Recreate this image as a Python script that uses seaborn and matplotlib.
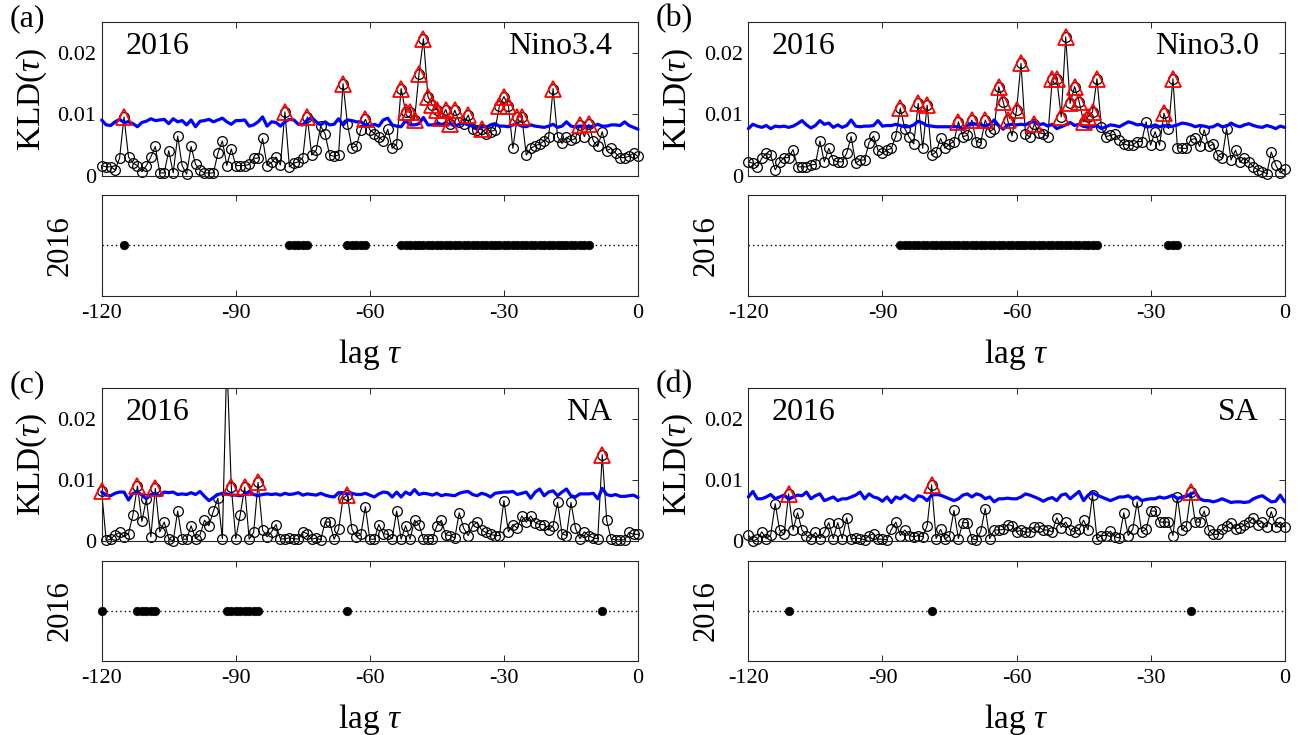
import numpy as np
import pandas as pd
import matplotlib
matplotlib.use("Agg")
import matplotlib.pyplot as plt
import seaborn as sns
from matplotlib.patches import Rectangle

# ---------------- data ----------------
lags = list(range(-120, 1))
year = 2016

kld_a = [0.0017, 0.0015, 0.0015, 0.0010, 0.0029, 0.0096, 0.0031, 0.0021, 0.0017, 0.0007,
         0.0017, 0.0031, 0.0048, 0.0005, 0.0005, 0.0041, 0.0005, 0.0065, 0.0017, 0.0003,
         0.0048, 0.0019, 0.0010, 0.0005, 0.0005, 0.0005, 0.0037, 0.0057, 0.0017, 0.0044,
         0.0017, 0.0017, 0.0017, 0.0019, 0.0029, 0.0029, 0.0061, 0.0017, 0.0022, 0.0031,
         0.0018, 0.0104, 0.0015, 0.0021, 0.0023, 0.0030, 0.0096, 0.0034, 0.0042, 0.0081,
         0.0068, 0.0034, 0.0032, 0.0034, 0.0150, 0.0084, 0.0046, 0.0049, 0.0075, 0.0092,
         0.0075, 0.0069, 0.0063, 0.0057, 0.0076, 0.0045, 0.0052, 0.0142, 0.0104, 0.0104,
         0.0091, 0.0166, 0.0223, 0.0129, 0.0115, 0.0108, 0.0094, 0.0108, 0.0085, 0.0107,
         0.0088, 0.0084, 0.0099, 0.0077, 0.0075, 0.0076, 0.0069, 0.0072, 0.0075, 0.0114,
         0.0129, 0.0114, 0.0045, 0.0096, 0.0096, 0.0034, 0.0045, 0.0049, 0.0052, 0.0057,
         0.0063, 0.0142, 0.0064, 0.0053, 0.0063, 0.0058, 0.0061, 0.0083, 0.0064, 0.0084,
         0.0057, 0.0048, 0.0072, 0.0041, 0.0045, 0.0037, 0.0030, 0.0030, 0.0032, 0.0037,
         0.0032]
thr_a = [0.0091, 0.0083, 0.0082, 0.0088, 0.0092, 0.0087, 0.0088, 0.0085, 0.0080, 0.0087,
         0.0089, 0.0093, 0.0090, 0.0091, 0.0092, 0.0085, 0.0093, 0.0088, 0.0090, 0.0083,
         0.0091, 0.0080, 0.0089, 0.0090, 0.0092, 0.0088, 0.0091, 0.0094, 0.0088, 0.0084,
         0.0090, 0.0090, 0.0091, 0.0081, 0.0083, 0.0088, 0.0096, 0.0081, 0.0088, 0.0087,
         0.0081, 0.0088, 0.0092, 0.0091, 0.0084, 0.0083, 0.0091, 0.0095, 0.0088, 0.0083,
         0.0088, 0.0083, 0.0084, 0.0093, 0.0083, 0.0091, 0.0090, 0.0088, 0.0088, 0.0083,
         0.0081, 0.0084, 0.0081, 0.0091, 0.0094, 0.0083, 0.0081, 0.0080, 0.0090, 0.0083,
         0.0083, 0.0085, 0.0095, 0.0083, 0.0083, 0.0085, 0.0083, 0.0084, 0.0085, 0.0081,
         0.0084, 0.0086, 0.0083, 0.0081, 0.0076, 0.0081, 0.0079, 0.0083, 0.0085, 0.0081,
         0.0081, 0.0080, 0.0083, 0.0084, 0.0081, 0.0080, 0.0083, 0.0081, 0.0080, 0.0079,
         0.0081, 0.0084, 0.0079, 0.0081, 0.0088, 0.0081, 0.0080, 0.0081, 0.0081, 0.0080,
         0.0081, 0.0084, 0.0081, 0.0081, 0.0083, 0.0083, 0.0082, 0.0088, 0.0082, 0.0079,
         0.0076]
tri_a = [-115, -79, -74, -66, -61, -53, -52, -51, -50, -49, -48, -47, -46, -45, -44, -43,
         -42, -41, -38, -35, -31, -30, -29, -27, -26, -19, -13, -11]
strip_a = [-115, -78, -77, -76, -75, -74, -65, -64, -63, -62, -61] + list(range(-53, -10))

kld_b = [0.0023, 0.0021, 0.0015, 0.0029, 0.0037, 0.0034, 0.0010, 0.0022, 0.0030, 0.0030,
         0.0043, 0.0015, 0.0015, 0.0015, 0.0018, 0.0019, 0.0057, 0.0023, 0.0045, 0.0026,
         0.0023, 0.0023, 0.0037, 0.0064, 0.0021, 0.0026, 0.0026, 0.0054, 0.0065, 0.0042,
         0.0037, 0.0042, 0.0045, 0.0065, 0.0110, 0.0077, 0.0063, 0.0052, 0.0118, 0.0045,
         0.0115, 0.0034, 0.0039, 0.0061, 0.0045, 0.0052, 0.0056, 0.0088, 0.0064, 0.0066,
         0.0091, 0.0056, 0.0054, 0.0091, 0.0072, 0.0077, 0.0145, 0.0121, 0.0091, 0.0065,
         0.0107, 0.0183, 0.0069, 0.0063, 0.0085, 0.0070, 0.0069, 0.0064, 0.0158, 0.0158,
         0.0096, 0.0226, 0.0118, 0.0145, 0.0121, 0.0088, 0.0096, 0.0104, 0.0158, 0.0079,
         0.0064, 0.0066, 0.0068, 0.0059, 0.0052, 0.0050, 0.0050, 0.0056, 0.0056, 0.0088,
         0.0050, 0.0072, 0.0050, 0.0102, 0.0077, 0.0158, 0.0046, 0.0045, 0.0045, 0.0059,
         0.0061, 0.0048, 0.0075, 0.0048, 0.0052, 0.0034, 0.0029, 0.0077, 0.0026, 0.0042,
         0.0022, 0.0030, 0.0023, 0.0015, 0.0010, 0.0007, 0.0004, 0.0039, 0.0018, 0.0005,
         0.0011]
thr_b = [0.0077, 0.0084, 0.0081, 0.0079, 0.0082, 0.0077, 0.0081, 0.0080, 0.0081, 0.0079,
         0.0081, 0.0085, 0.0090, 0.0083, 0.0078, 0.0082, 0.0090, 0.0084, 0.0086, 0.0079,
         0.0083, 0.0079, 0.0082, 0.0091, 0.0081, 0.0080, 0.0081, 0.0081, 0.0082, 0.0090,
         0.0081, 0.0082, 0.0082, 0.0084, 0.0082, 0.0080, 0.0080, 0.0083, 0.0089, 0.0086,
         0.0082, 0.0081, 0.0080, 0.0080, 0.0080, 0.0080, 0.0080, 0.0080, 0.0076, 0.0082,
         0.0086, 0.0084, 0.0083, 0.0081, 0.0084, 0.0091, 0.0082, 0.0076, 0.0083, 0.0084,
         0.0083, 0.0084, 0.0083, 0.0087, 0.0088, 0.0083, 0.0085, 0.0081, 0.0084, 0.0077,
         0.0080, 0.0083, 0.0087, 0.0082, 0.0084, 0.0081, 0.0079, 0.0080, 0.0082, 0.0077,
         0.0080, 0.0083, 0.0082, 0.0080, 0.0084, 0.0088, 0.0086, 0.0083, 0.0084, 0.0080,
         0.0080, 0.0083, 0.0080, 0.0082, 0.0080, 0.0081, 0.0083, 0.0086, 0.0085, 0.0083,
         0.0080, 0.0082, 0.0081, 0.0079, 0.0080, 0.0084, 0.0080, 0.0081, 0.0086, 0.0082,
         0.0080, 0.0083, 0.0085, 0.0082, 0.0080, 0.0079, 0.0082, 0.0080, 0.0077, 0.0081,
         0.0079]
tri_b = [-86, -82, -80, -73, -70, -67, -64, -63, -62, -60, -59, -56, -52, -51, -50, -49,
         -48, -47, -46, -45, -44, -43, -42, -27, -25]
strip_b = list(range(-86, -41)) + [-26, -25, -24]

kld_c = [0.0081, 0.0001, 0.0003, 0.0010, 0.0014, 0.0007, 0.0012, 0.0043, 0.0090, 0.0032,
         0.0069, 0.0007, 0.0086, 0.0015, 0.0031, 0.0004, 0.0000, 0.0049, 0.0003, 0.0003,
         0.0025, 0.0004, 0.0010, 0.0034, 0.0025, 0.0049, 0.0070, 0.0004, 0.0300, 0.0088,
         0.0004, 0.0043, 0.0088, 0.0003, 0.0014, 0.0096, 0.0018, 0.0007, 0.0015, 0.0027,
         0.0003, 0.0004, 0.0005, 0.0004, 0.0003, 0.0015, 0.0012, 0.0003, 0.0005, 0.0002,
         0.0031, 0.0031, 0.0003, 0.0019, 0.0070, 0.0075, 0.0019, 0.0007, 0.0011, 0.0056,
         0.0003, 0.0003, 0.0027, 0.0012, 0.0011, 0.0004, 0.0049, 0.0003, 0.0025, 0.0003,
         0.0034, 0.0027, 0.0003, 0.0004, 0.0004, 0.0025, 0.0034, 0.0010, 0.0009, 0.0005,
         0.0046, 0.0021, 0.0009, 0.0025, 0.0031, 0.0018, 0.0014, 0.0011, 0.0009, 0.0009,
         0.0066, 0.0015, 0.0027, 0.0021, 0.0041, 0.0031, 0.0041, 0.0030, 0.0027, 0.0027,
         0.0018, 0.0025, 0.0063, 0.0012, 0.0009, 0.0063, 0.0021, 0.0004, 0.0015, 0.0009,
         0.0005, 0.0004, 0.0141, 0.0034, 0.0003, 0.0002, 0.0002, 0.0002, 0.0014, 0.0011,
         0.0011]
thr_c = [0.0080, 0.0075, 0.0074, 0.0078, 0.0080, 0.0080, 0.0067, 0.0078, 0.0080, 0.0075,
         0.0069, 0.0076, 0.0077, 0.0074, 0.0080, 0.0079, 0.0080, 0.0076, 0.0077, 0.0076,
         0.0079, 0.0076, 0.0081, 0.0073, 0.0066, 0.0071, 0.0076, 0.0078, 0.0077, 0.0075,
         0.0075, 0.0074, 0.0076, 0.0081, 0.0076, 0.0074, 0.0076, 0.0077, 0.0076, 0.0077,
         0.0075, 0.0078, 0.0076, 0.0077, 0.0079, 0.0075, 0.0077, 0.0076, 0.0075, 0.0078,
         0.0075, 0.0073, 0.0072, 0.0079, 0.0079, 0.0077, 0.0078, 0.0076, 0.0076, 0.0078,
         0.0075, 0.0072, 0.0077, 0.0080, 0.0079, 0.0072, 0.0080, 0.0072, 0.0080, 0.0076,
         0.0084, 0.0076, 0.0078, 0.0077, 0.0075, 0.0078, 0.0074, 0.0076, 0.0075, 0.0074,
         0.0078, 0.0080, 0.0081, 0.0076, 0.0074, 0.0078, 0.0076, 0.0072, 0.0078, 0.0079,
         0.0080, 0.0080, 0.0081, 0.0076, 0.0078, 0.0080, 0.0070, 0.0080, 0.0085, 0.0074,
         0.0080, 0.0082, 0.0074, 0.0080, 0.0085, 0.0074, 0.0072, 0.0077, 0.0077, 0.0077,
         0.0078, 0.0069, 0.0086, 0.0076, 0.0074, 0.0076, 0.0073, 0.0073, 0.0074, 0.0075,
         0.0071]
tri_c = [-120, -112, -108, -92, -91, -88, -85, -65, -8]
strip_c = [-120, -112, -111, -110, -109, -108, -92, -91, -90, -89, -88, -87, -86, -85, -65, -8]

kld_d = [0.0010, 0.0000, 0.0003, 0.0015, 0.0004, 0.0010, 0.0061, 0.0018, 0.0011, 0.0077,
         0.0018, 0.0046, 0.0018, 0.0009, 0.0004, 0.0014, 0.0004, 0.0015, 0.0030, 0.0004,
         0.0030, 0.0004, 0.0038, 0.0003, 0.0005, 0.0004, 0.0002, 0.0009, 0.0012, 0.0003,
         0.0003, 0.0002, 0.0019, 0.0031, 0.0009, 0.0018, 0.0009, 0.0007, 0.0009, 0.0007,
         0.0025, 0.0092, 0.0004, 0.0019, 0.0003, 0.0009, 0.0050, 0.0004, 0.0030, 0.0030,
         0.0004, 0.0002, 0.0016, 0.0053, 0.0004, 0.0018, 0.0018, 0.0019, 0.0027, 0.0025,
         0.0015, 0.0018, 0.0014, 0.0015, 0.0023, 0.0023, 0.0018, 0.0018, 0.0015, 0.0038,
         0.0022, 0.0031, 0.0018, 0.0015, 0.0019, 0.0034, 0.0018, 0.0075, 0.0004, 0.0009,
         0.0009, 0.0016, 0.0007, 0.0005, 0.0046, 0.0009, 0.0019, 0.0064, 0.0015, 0.0019,
         0.0049, 0.0049, 0.0031, 0.0031, 0.0031, 0.0009, 0.0072, 0.0018, 0.0025, 0.0080,
         0.0031, 0.0031, 0.0049, 0.0018, 0.0011, 0.0011, 0.0019, 0.0025, 0.0030, 0.0019,
         0.0022, 0.0026, 0.0031, 0.0038, 0.0027, 0.0031, 0.0023, 0.0048, 0.0023, 0.0031,
         0.0023]
thr_d = [0.0072, 0.0081, 0.0069, 0.0069, 0.0072, 0.0076, 0.0069, 0.0072, 0.0075, 0.0069,
         0.0072, 0.0075, 0.0074, 0.0080, 0.0069, 0.0074, 0.0077, 0.0066, 0.0069, 0.0072,
         0.0066, 0.0069, 0.0069, 0.0072, 0.0075, 0.0080, 0.0069, 0.0077, 0.0072, 0.0070,
         0.0065, 0.0072, 0.0063, 0.0072, 0.0069, 0.0075, 0.0070, 0.0066, 0.0074, 0.0072,
         0.0066, 0.0075, 0.0076, 0.0075, 0.0072, 0.0069, 0.0066, 0.0069, 0.0075, 0.0077,
         0.0072, 0.0077, 0.0075, 0.0069, 0.0072, 0.0064, 0.0069, 0.0069, 0.0070, 0.0069,
         0.0069, 0.0072, 0.0077, 0.0075, 0.0072, 0.0069, 0.0065, 0.0069, 0.0071, 0.0066,
         0.0075, 0.0077, 0.0069, 0.0075, 0.0081, 0.0066, 0.0075, 0.0079, 0.0075, 0.0072,
         0.0069, 0.0066, 0.0069, 0.0072, 0.0072, 0.0074, 0.0069, 0.0072, 0.0066, 0.0068,
         0.0069, 0.0069, 0.0072, 0.0070, 0.0072, 0.0075, 0.0069, 0.0072, 0.0073, 0.0077,
         0.0080, 0.0069, 0.0066, 0.0066, 0.0064, 0.0066, 0.0069, 0.0066, 0.0063, 0.0064,
         0.0064, 0.0063, 0.0064, 0.0069, 0.0072, 0.0074, 0.0069, 0.0064, 0.0065, 0.0075,
         0.0064]
tri_d = [-111, -79, -21]
strip_d = [-111, -79, -21]

panels = [
    dict(letter="(a)", name="Nino3.4", kld=kld_a, thr=thr_a, tri=tri_a, strip=strip_a),
    dict(letter="(b)", name="Nino3.0", kld=kld_b, thr=thr_b, tri=tri_b, strip=strip_b),
    dict(letter="(c)", name="NA", kld=kld_c, thr=thr_c, tri=tri_c, strip=strip_c),
    dict(letter="(d)", name="SA", kld=kld_d, thr=thr_d, tri=tri_d, strip=strip_d),
]
xticks = [-120, -90, -60, -30, 0]

# ---------------- style ----------------
sns.set_style("white")
plt.rcParams.update({
    "font.family": ["Liberation Serif", "DejaVu Serif"],
    "mathtext.fontset": "custom",
    "mathtext.rm": "Liberation Serif",
    "mathtext.it": "Liberation Serif:italic",
    "text.color": "black",
    "axes.labelcolor": "black",
    "axes.edgecolor": "#262626",
    "axes.linewidth": 0.8,
    "xtick.color": "#262626",
    "ytick.color": "#262626",
    "xtick.labelcolor": "black",
    "ytick.labelcolor": "black",
})

fig = plt.figure(figsize=(12.97, 7.35), dpi=100)

W = 0.4135
lefts = [0.0784, 0.5770]
main_rows = [(0.7605, 0.2095), (0.2639, 0.2082)]
strip_rows = [(0.5973, 0.1374), (0.1007, 0.1361)]
TICK = 16
LAB = 24
TXT = 23

for k, p in enumerate(panels):
    col, row = k % 2, k // 2
    x0 = lefts[col]
    ax = fig.add_axes([x0, main_rows[row][0], W, main_rows[row][1]])
    axs = fig.add_axes([x0, strip_rows[row][0], W, strip_rows[row][1]])

    df = pd.DataFrame({"lag": lags, "kld": p["kld"], "thr": p["thr"]})
    clip = Rectangle((-0.04, -0.06), 1.08, 1.06, transform=ax.transAxes,
                     facecolor="none", edgecolor="none")

    sns.lineplot(data=df, x="lag", y="kld", ax=ax, color="black", lw=0.8,
                 marker="o", markersize=7, markerfacecolor="none",
                 markeredgecolor="black", markeredgewidth=0.9, zorder=2)
    sns.lineplot(data=df, x="lag", y="thr", ax=ax, color="#0000ff", lw=2.3, zorder=3)
    dtri = df[df["lag"].isin(p["tri"])]
    sns.lineplot(data=dtri, x="lag", y="kld", ax=ax, linestyle="", marker="^",
                 markersize=12, markerfacecolor="none", markeredgecolor="#ff0000",
                 markeredgewidth=1.3, color="#ff0000", zorder=4)
    for ln in ax.lines:
        ln.set_clip_path(clip)

    ax.set_xlim(-120, 0)
    ax.set_ylim(0, 0.025)
    ax.set_xticks(xticks)
    ax.set_xticklabels([])
    ax.set_yticks([0, 0.01, 0.02])
    ax.set_yticklabels(["0", "0.01", "0.02"])
    ax.tick_params(axis="both", direction="in", top=True, right=True, length=4,
                   width=0.7, labelsize=TICK, pad=4)
    ax.set_xlabel("")
    ax.set_ylabel(r"KLD($\tau$)", fontsize=LAB)
    ax.yaxis.set_label_coords(-0.131, 0.5)
    ax.yaxis.label.set_verticalalignment("center")
    ax.text(0.044, 0.84, str(year), transform=ax.transAxes, fontsize=TXT,
            ha="left", va="center")
    ax.text(0.952, 0.84, p["name"], transform=ax.transAxes, fontsize=TXT,
            ha="right", va="center")

    # strip of significant lags
    axs.axhline(year, color="black", lw=1.0, linestyle=(0, (1, 2.2)), zorder=1)
    ds = pd.DataFrame({"lag": p["strip"], "yr": [year] * len(p["strip"])})
    sns.scatterplot(data=ds, x="lag", y="yr", ax=axs, color="black", s=40,
                    edgecolor="black", linewidth=0.3, zorder=3, clip_on=False)
    axs.set_xlim(-120, 0)
    axs.set_ylim(year - 1, year + 1)
    axs.set_xticks(xticks)
    axs.set_xticklabels([str(t) for t in xticks])
    axs.set_yticks([])
    axs.tick_params(axis="x", direction="in", top=True, bottom=True, length=4,
                    width=0.7, labelsize=TICK, pad=6)
    axs.set_ylabel(str(year), fontsize=22)
    axs.yaxis.set_label_coords(-0.078, 0.5)
    axs.yaxis.label.set_verticalalignment("center")
    axs.set_xlabel(r"lag $\tau$", fontsize=LAB)
    axs.xaxis.set_label_coords(0.5, -0.58)
    axs.xaxis.label.set_verticalalignment("center")

    fy = main_rows[row][0] + main_rows[row][1]
    fig.text(x0 - 0.0575, fy + 0.005, p["letter"], fontsize=TXT, ha="center", va="center")

fig.savefig("out.png", dpi=100, facecolor="white")
